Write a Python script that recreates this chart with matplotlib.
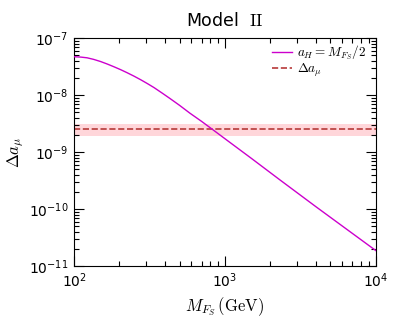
import math

import matplotlib
matplotlib.use("Agg")
import matplotlib.pyplot as plt
from matplotlib.ticker import (LogLocator, FixedLocator, FuncFormatter,
                               NullFormatter)

plt.rcParams["mathtext.fontset"] = "cm"
plt.rcParams["axes.unicode_minus"] = False

# curve
mass_gev = [100, 111, 122, 135, 150, 166, 184, 204, 225, 250, 277, 306,
            339, 384, 432, 500, 586, 700, 817, 1080, 1500, 2310, 4000, 10000]
delta_amu = [4.70e-8, 4.63e-8, 4.50e-8, 4.22e-8, 3.87e-8, 3.50e-8, 3.13e-8,
             2.78e-8, 2.46e-8, 2.14e-8, 1.85e-8, 1.59e-8, 1.35e-8, 1.08e-8,
             8.7e-9, 6.6e-9, 4.8e-9, 3.45e-9, 2.55e-9, 1.47e-9, 7.7e-10,
             3.25e-10, 1.10e-10, 1.86e-11]

amu_central = 2.51e-9
amu_err = 0.59e-9

x_limits = [1e2, 1e4]
y_limits = [1e-11, 1e-7]
x_ticks = [1e2, 1e3, 1e4]
y_ticks = [1e-11, 1e-10, 1e-9, 1e-8, 1e-7]


def power_label(value, pos):
    exponent = int(round(math.log10(value)))
    return r"$\mathdefault{10^{%d}}$" % exponent


fig = plt.figure(figsize=(3.99, 3.17), dpi=100)
ax = fig.add_axes([0.1855, 0.161, 0.7565, 0.719])

ax.axhspan(amu_central - amu_err, amu_central + amu_err,
           color="#ffd6da", linewidth=0, zorder=1)
ax.plot(x_limits, [amu_central, amu_central], "--", color="#b83a3a",
        linewidth=1.2, label=r"$\Delta a_\mu$", zorder=2)
ax.plot(mass_gev, delta_amu, "-", color="#cc00cc", linewidth=1.0,
        label=r"$a_H=M_{F_S}/2$", zorder=3)

ax.set_xscale("log")
ax.set_yscale("log")
ax.set_xlim(x_limits)
ax.set_ylim(y_limits)

for axis, ticks in ((ax.xaxis, x_ticks), (ax.yaxis, y_ticks)):
    axis.set_major_locator(FixedLocator(ticks))
    axis.set_minor_locator(LogLocator(base=10, subs=range(2, 10), numticks=20))
    axis.set_major_formatter(FuncFormatter(power_label))
    axis.set_minor_formatter(NullFormatter())

ax.tick_params(which="both", direction="in", top=True, right=True,
               labelsize=10, width=0.8)
ax.tick_params(which="major", length=7, pad=4)
ax.tick_params(which="minor", length=3.5)

ax.set_xlabel(r"$M_{F_S}\,(\mathrm{GeV})$", fontsize=12, labelpad=4)
ax.set_ylabel(r"$\Delta a_\mu$", fontsize=12, labelpad=2)
ax.set_title(r"Model  $\mathrm{II}$", fontsize=12.5, pad=9)

# legend entries: curve first, then the dashed line
handles, labels = ax.get_legend_handles_labels()
ax.legend(handles[::-1], labels[::-1], loc="upper right",
          bbox_to_anchor=(0.985, 1.0), frameon=False,
          fontsize=9.5, handlelength=1.5, handletextpad=0.4,
          labelspacing=0.0, borderaxespad=0.0)

fig.savefig("out.png", dpi=100)
